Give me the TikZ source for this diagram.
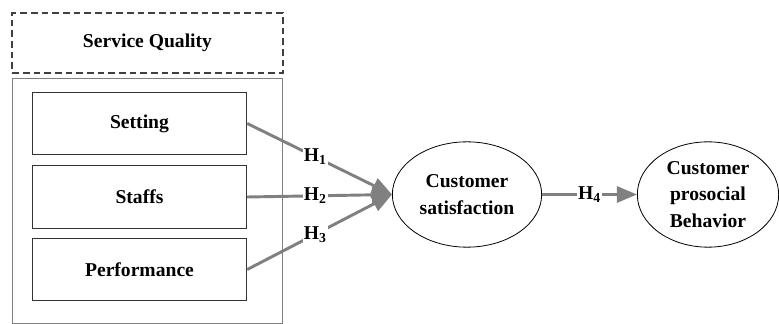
\documentclass[tikz,border=0pt]{standalone}
\usepackage{fontspec}
\setmainfont{Liberation Serif}
\usetikzlibrary{arrows.meta,shapes.geometric}
\tikzstyle{factor} = [rectangle, draw=black!80, line width=.6pt, minimum width=161pt, minimum height=47pt]
\tikzstyle{construct} = [ellipse, draw=black, line width=.6pt, inner sep=0pt, minimum height=79pt, align=center]
\tikzstyle{path} = [draw=gray, line width=2.2pt, -{Triangle[length=15pt,width=12pt]}]
\tikzstyle{hyp} = [fill=white, inner sep=1pt]

\begin{document}
\begin{tikzpicture}[x=.75pt, y=-.75pt, font=\bfseries\fontsize{14.7}{20}\selectfont]%
				\useasboundingbox (0,0) rectangle (779,324);
				\draw[gray, line width=.5pt] (12,78) rectangle (282,323);
				\node [rectangle, draw=black!75, dashed, dash pattern=on 5pt off 3pt, line width=1.4pt,
				minimum width=203pt, minimum height=45pt] (quality) at (147.5,43) {Service Quality};
				\node [factor] (setting) at (139.5,123.5) {Setting};
				\node [factor] (staffs) at (139.5,197) {Staffs};
				\node [factor] (perf) at (139.5,269.5) {Performance};
				\node [construct, minimum width=112pt] (sat) at (467,194.5) {Customer\\satisfaction};
				\node [construct, minimum width=106pt] (beh) at (708,194.5) {Customer\\prosocial\\Behavior};
				\draw [path] (setting.east) -- node[hyp, pos=.47] {H\textsubscript{1}} (sat.west);
				\draw [path] (staffs.east) -- node[hyp, pos=.47] {H\textsubscript{2}} (sat.west);
				\draw [path] (perf.east) -- node[hyp, pos=.47] {H\textsubscript{3}} (sat.west);
				\draw [path] (sat.east) -- node[hyp] {H\textsubscript{4}} (beh.west);
	\end{tikzpicture}
\end{document}
